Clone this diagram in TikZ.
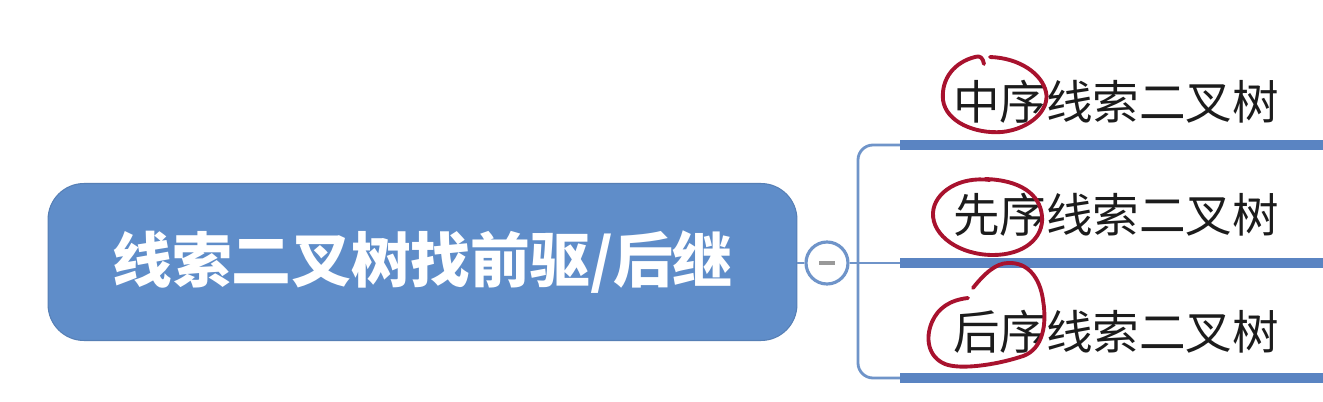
\documentclass[tikz,border=0pt]{standalone}
\usepackage{fontspec}
\newfontfamily\cjk{Noto Sans CJK SC}
\definecolor{boxblue}{HTML}{5F8DC9}
\definecolor{barblue}{HTML}{5A84C2}
\definecolor{lineblue}{HTML}{6F94C9}
\definecolor{inkred}{HTML}{A8122E}
\definecolor{txt}{HTML}{1C1C1C}
\begin{document}
\begin{tikzpicture}[x=0.02cm,y=-0.02cm,
  rootbox/.style={draw=boxblue!90!black,line width=0.6pt,fill=boxblue,rounded corners=0.72cm,
    minimum width=14.98cm,minimum height=3.14cm,inner sep=0pt,
    font=\cjk\bfseries\fontsize{34}{40}\selectfont,text=white},
  togglebox/.style={circle,draw=lineblue,line width=1.8pt,fill=white,minimum size=0.84cm,inner sep=0pt},
  childtext/.style={font=\cjk\fontsize{26.5}{32}\selectfont,text=txt,inner sep=0pt},
  bar/.style={barblue,line width=5.6pt},
  conn/.style={lineblue,line width=1.6pt,rounded corners=0.3cm},
  ink/.style={inkred,line width=2.2pt,line cap=round,line join=round}]
\useasboundingbox (0,0) rectangle (1323,402);
\fill[white] (0,0) rectangle (1323,402);

\node[rootbox] (root) at (422.5,262) {线索二叉树找前驱/后继};
\node[togglebox] (tog) at (827,263) {};
\draw[gray!80,line width=1.8pt] ([xshift=-0.16cm]tog.center) -- ([xshift=0.16cm]tog.center);

\node[childtext] (c1) at (1116,102) {中序线索二叉树};
\node[childtext] (c2) at (1116,215) {先序线索二叉树};
\node[childtext] (c3) at (1116,332) {后序线索二叉树};

\coordinate (b1) at (900,145);
\coordinate (b2) at (900,263);
\coordinate (b3) at (900,378);
\coordinate (e1) at (1323,145);
\coordinate (e2) at (1323,263);
\coordinate (e3) at (1323,378);
\coordinate (j) at (858,263);

\draw[conn] (root.east|-tog.west) -- (tog.west);
\draw[conn] (tog.east) -- (j);
\draw[conn] (j) |- (b1);
\draw[conn] (j) |- (b3);
\draw[conn] (j) -- (b2);

\draw[bar] (b1) -- (e1);
\draw[bar] (b2) -- (e2);
\draw[bar] (b3) -- (e3);

% hand-drawn red marks
\draw[ink] (984,64) .. controls (983,58) and (980,55) .. (975,57)
  .. controls (955,62) and (941,78) .. (943,100)
  .. controls (946,122) and (975,134) .. (1002,132)
  .. controls (1030,129) and (1050,110) .. (1046,92)
  .. controls (1042,74) and (1020,58) .. (990,57);
\draw[ink] (990,180) .. controls (960,176) and (934,192) .. (933,213)
  .. controls (932,236) and (960,255) .. (993,255)
  .. controls (1024,255) and (1044,238) .. (1042,216)
  .. controls (1040,194) and (1020,180) .. (985,179);
\draw[ink] (973,288) .. controls (984,274) and (996,263) .. (1008,263)
  .. controls (1028,262) and (1040,278) .. (1043,300)
  .. controls (1048,330) and (1040,352) .. (1020,357)
  .. controls (995,365) and (960,370) .. (945,364)
  .. controls (928,357) and (925,338) .. (932,322)
  .. controls (938,308) and (950,300) .. (968,298);
\end{tikzpicture}
\end{document}
